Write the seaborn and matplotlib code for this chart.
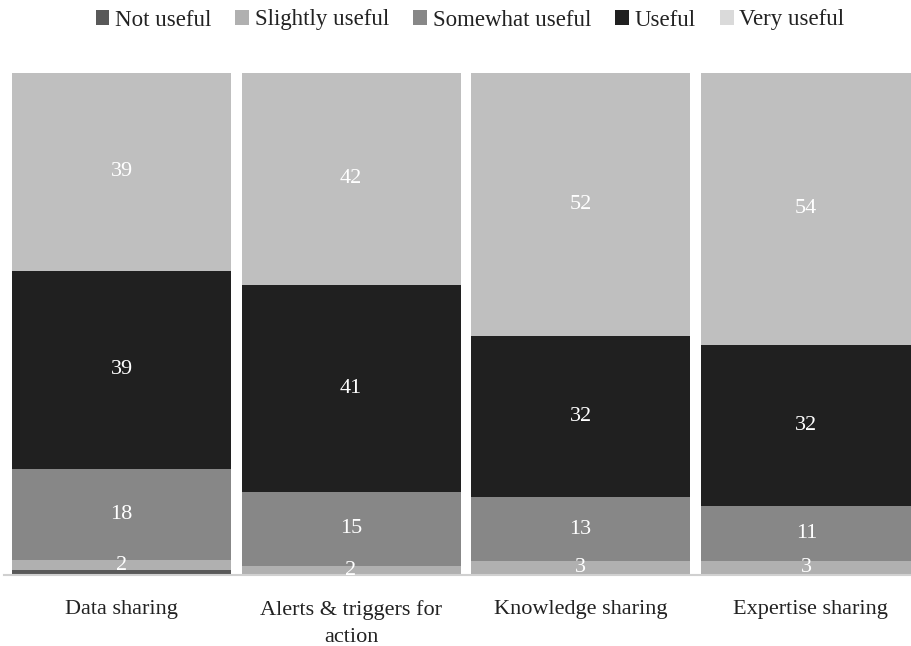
import numpy as np
import pandas as pd
import seaborn as sns
import matplotlib.pyplot as plt
from matplotlib.patches import Patch

# -----------------------------
# Data (percent of respondents, labels shown rounded)
# -----------------------------
categories = ['Data sharing', 'Alerts & triggers for\naction', 'Knowledge sharing', 'Expertise sharing']
levels = ['Not useful', 'Slightly useful', 'Somewhat useful', 'Useful', 'Very useful']
not_useful = [1.0, 0.0, 0.0, 0.0]
slightly_useful = [1.9, 1.8, 2.8, 2.8]
somewhat_useful = [18.3, 14.8, 12.7, 11.0]
useful = [39.4, 41.2, 32.1, 32.1]
very_useful = [39.4, 42.2, 52.4, 54.1]

series = [not_useful, slightly_useful, somewhat_useful, useful, very_useful]
bar_colors = ['#595959', '#b0b0b0', '#878787', '#202020', '#bfbfbf']
legend_colors = ['#595959', '#b0b0b0', '#878787', '#202020', '#dadada']

sns.set_style('white')
plt.rcParams['font.family'] = ['Liberation Serif', 'DejaVu Serif']

fig = plt.figure(figsize=(9.12, 6.46), dpi=100)
ax = fig.add_axes([4 / 912, 71 / 646, 908 / 912, 502 / 646])

bottom = np.zeros(len(categories))
for name, vals, col in zip(levels, series, bar_colors):
    sns.barplot(x=categories, y=vals, bottom=bottom, color=col, width=0.954,
                linewidth=0, ax=ax)
    cont = ax.containers[-1]
    labels = [f'{v:.0f}' if v >= 1.5 else '' for v in vals]
    ax.bar_label(cont, labels=labels, label_type='center', color='white', fontsize=16)
    bottom = bottom + np.array(vals)

ax.set_xlim(-0.512, 3.444)
ax.set_ylim(0, 100)
ax.set_yticks([])
ax.set_ylabel('')
ax.tick_params(axis='x', length=0, labelsize=16, pad=18, colors='#222222')
for t in ax.get_xticklabels():
    t.set_linespacing(1.6)
for s in ['top', 'right', 'left']:
    ax.spines[s].set_visible(False)
ax.spines['bottom'].set_color('#d0d0d0')
ax.spines['bottom'].set_linewidth(1.5)

handles = [Patch(facecolor=c, edgecolor='none', label=l) for c, l in zip(legend_colors, levels)]
fig.legend(handles=handles, loc='center', bbox_to_anchor=(470 / 912, 1 - 20 / 646), ncol=5,
           frameon=False, fontsize=16.5, handlelength=0.6, handleheight=0.6,
           handletextpad=0.25, columnspacing=1.05, labelcolor='#222222')

fig.savefig('out.png', dpi=100)
